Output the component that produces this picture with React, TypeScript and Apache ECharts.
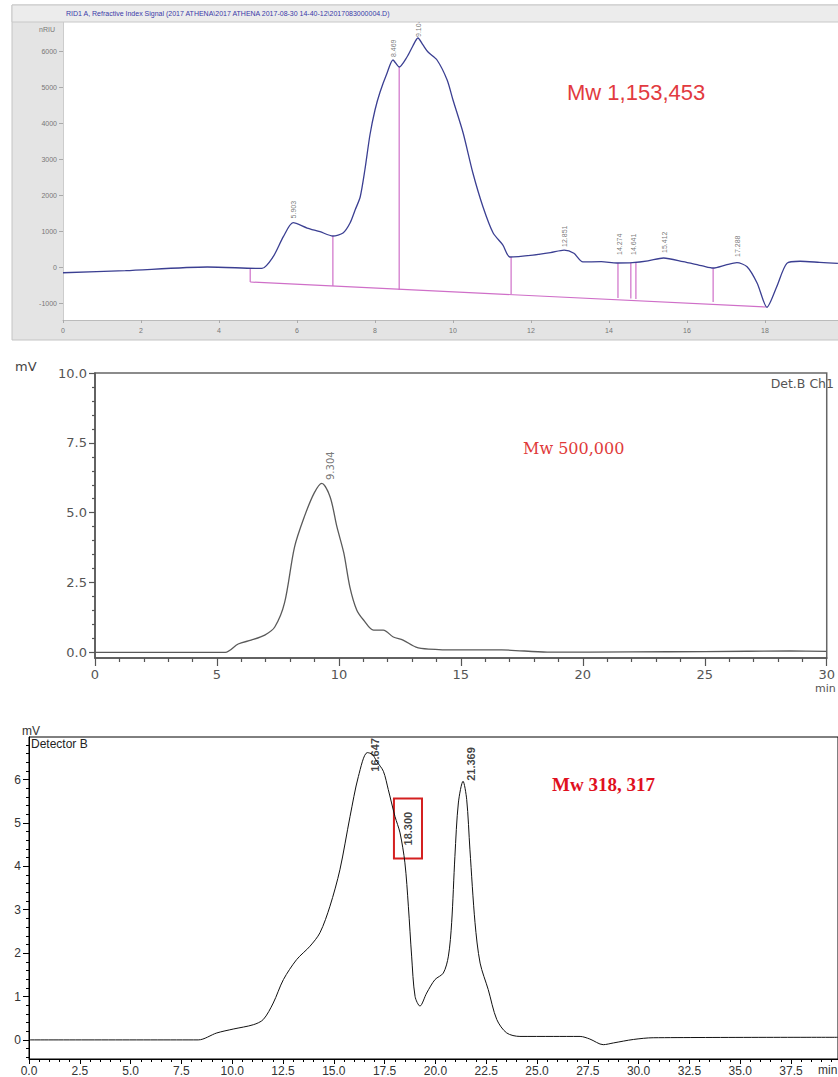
import React, { useEffect, useRef } from 'react';
import * as echarts from 'echarts';

// ---------- Panel 1 (RID signal) ----------
const topTitle = 'RID1 A, Refractive Index Signal (2017 ATHENA\\2017 ATHENA 2017-08-30 14-40-12\\2017083000004.D)';
const topTimes = [0, 1.6, 3.7, 5.1, 5.39, 5.65, 5.9, 6.26, 6.59, 6.92, 7.18, 7.36, 7.49, 7.62, 7.74, 7.87, 8.0, 8.13, 8.31, 8.46, 8.62, 8.82, 8.97, 9.1, 9.23, 9.36, 9.59, 9.85, 10.0, 10.26, 10.51, 10.77, 11.03, 11.28, 11.46, 12.05, 12.5, 12.85, 13.1, 13.33, 13.8, 14.2, 14.6, 15.0, 15.4, 15.9, 16.4, 16.67, 17.0, 17.28, 17.54, 17.8, 18.05, 18.3, 18.56, 18.9, 19.4, 19.87];
const topSignal = [-160, -100, 0, -40, 286, 842, 1231, 1083, 981, 861, 944, 1222, 1583, 1944, 2694, 3667, 4361, 4861, 5389, 5750, 5556, 5833, 6139, 6361, 6167, 5972, 5750, 5194, 4639, 3722, 2611, 1667, 944, 611, 278, 330, 400, 470, 380, 140, 147, 111, 120, 170, 250, 147, 30, -28, 60, 120, 8, -450, -1120, -550, 100, 160, 130, 100];
const topDropX = [4.8, 6.92, 8.62, 11.49, 14.23, 14.56, 14.69, 16.67, 18.03];
const topDropTop = [-30, 861, 5556, 278, 111, 115, 118, -28, -1111];
const topDropBottom = [-417, -528, -639, -750, -861, -875, -889, -972, -1111];
const topBaseX = [4.8, 18.03];
const topBaseY = [-417, -1111];
const topPeakText = ['5.903', '8.469', '9.104', '12.851', '14.274', '14.641', '15.412', '17.288'];
const topPeakX = [5.903, 8.469, 9.104, 12.851, 14.274, 14.641, 15.412, 17.288];
const topPeakLabelY = [1350, 5833, 6389, 556, 333, 333, 389, 278];
const topYTicks = [-1000, 0, 1000, 2000, 3000, 4000, 5000, 6000];
const topXTicks = [0, 2, 4, 6, 8, 10, 12, 14, 16, 18];

// ---------- Panel 2 (Det.B Ch1) ----------
const midTimes = [0, 2, 4, 5.34, 5.87, 6.4, 6.96, 7.37, 7.77, 8.18, 8.58, 8.99, 9.3, 9.64, 9.92, 10.2, 10.45, 10.73, 11.01, 11.42, 11.82, 12.23, 12.63, 13.16, 13.68, 14.9, 16.68, 18.54, 22, 25, 28.5, 30];
const midSignal = [0, 0, 0, 0, 0.3, 0.44, 0.62, 0.91, 1.77, 3.77, 4.85, 5.71, 6.05, 5.56, 4.49, 3.56, 2.34, 1.52, 1.16, 0.8, 0.8, 0.55, 0.44, 0.19, 0.12, 0.09, 0.09, 0.01, 0.02, 0.03, 0.05, 0.04];
const midPeakText = ['9.304'];
const midPeakX = [9.64];
const midPeakLabelY = [6.17];
const midYTicks = [0, 2.5, 5, 7.5, 10];
const midYMinor = [0.5, 1, 1.5, 2, 3, 3.5, 4, 4.5, 5.5, 6, 6.5, 7, 8, 8.5, 9, 9.5];

// ---------- Panel 3 (Detector B) ----------
const botTimes = [0, 8.33, 9.24, 10.05, 11.04, 11.53, 12.02, 12.52, 13.17, 13.83, 14.32, 14.81, 15.3, 15.8, 16.21, 16.65, 16.9, 17.11, 17.44, 17.68, 18.01, 18.26, 18.5, 18.67, 18.83, 19.0, 19.24, 19.57, 19.98, 20.39, 20.64, 20.8, 20.96, 21.13, 21.36, 21.54, 21.7, 21.95, 22.2, 22.6, 23.02, 23.51, 24.16, 25.8, 27.12, 27.6, 28.26, 28.76, 29.74, 30.72, 39.8];
const botSignal = [0, 0, 0.16, 0.25, 0.35, 0.47, 0.85, 1.39, 1.85, 2.16, 2.47, 3.08, 3.92, 5.15, 6.07, 6.62, 6.58, 6.42, 6.19, 5.77, 5.15, 4.77, 4.08, 3.08, 1.93, 1.0, 0.78, 1.08, 1.39, 1.54, 1.93, 2.7, 4.23, 5.46, 5.96, 5.54, 4.38, 2.7, 1.77, 1.16, 0.47, 0.16, 0.08, 0.08, 0.08, 0.02, -0.11, -0.07, 0.01, 0.05, 0.06];
const botPeakText = ['16.647', '18.300', '21.369'];
const botPeakX = [17.03, 18.65, 21.75];
const botPeakLabelY = [6.18, 4.48, 5.97];
const botBoxX = [17.96, 19.34];
const botBoxY = [5.56, 4.18];
const botXTicks = [0, 2.5, 5, 7.5, 10, 12.5, 15, 17.5, 20, 22.5, 25, 27.5, 30, 32.5, 35, 37.5];
const botXMinor = [0.5, 1, 1.5, 2, 3, 3.5, 4, 4.5, 5.5, 6, 6.5, 7, 8, 8.5, 9, 9.5, 10.5, 11, 11.5, 12, 13, 13.5, 14, 14.5, 15.5, 16, 16.5, 17, 18, 18.5, 19, 19.5, 20.5, 21, 21.5, 22, 23, 23.5, 24, 24.5, 25.5, 26, 26.5, 27, 28, 28.5, 29, 29.5, 30.5, 31, 31.5, 32, 33, 33.5, 34, 34.5, 35.5, 36, 36.5, 37, 38, 38.5, 39, 39.5];
const botYTicks = [0, 1, 2, 3, 4, 5, 6];
const botYMinor = [-0.4, -0.2, 0.2, 0.4, 0.6, 0.8, 1.2, 1.4, 1.6, 1.8, 2.2, 2.4, 2.6, 2.8, 3.2, 3.4, 3.6, 3.8, 4.2, 4.4, 4.6, 4.8, 5.2, 5.4, 5.6, 5.8, 6.2, 6.4, 6.6, 6.8];

const zip = (a: number[], b: number[]) => a.map((v, i) => [v, b[i]]);

function labelSeries(xi: number, yi: number, xs: number[], ys: number[], texts: string[], font: any) {
  return {
    type: 'scatter', xAxisIndex: xi, yAxisIndex: yi, silent: true, symbolSize: 1,
    itemStyle: { color: 'rgba(0,0,0,0)' }, z: 5,
    data: texts.map((t, i) => ({ name: t, value: [xs[i], ys[i]] })),
    label: { show: true, position: 'inside', rotate: 90, align: 'left', verticalAlign: 'middle', formatter: '{b}', ...font },
  };
}

export default function App() {
  const ref = useRef<HTMLDivElement>(null);
  useEffect(() => {
    if (!ref.current) return;
    const chart = echarts.init(ref.current, null, { renderer: 'svg' });
    const pink = '#cf6fc8';
    const topAxisLbl = { fontSize: 7, color: '#777', fontFamily: 'Liberation Sans' };
    const series: any[] = [
      { type: 'line', xAxisIndex: 0, yAxisIndex: 0, data: zip(topTimes, topSignal), showSymbol: false, smooth: 0.25, lineStyle: { color: '#3b3f92', width: 1.3 }, z: 3 },
      { type: 'line', xAxisIndex: 0, yAxisIndex: 0, data: zip(topBaseX, topBaseY), showSymbol: false, lineStyle: { color: pink, width: 1.2 }, z: 2 },
      ...topDropX.map((x, i) => ({ type: 'line', xAxisIndex: 0, yAxisIndex: 0, data: [[x, topDropTop[i]], [x, topDropBottom[i]]], showSymbol: false, lineStyle: { color: pink, width: 1.2 }, z: 2 })),
      labelSeries(0, 0, topPeakX, topPeakLabelY, topPeakText, { fontSize: 7, color: '#555', fontFamily: 'Liberation Sans' }),
      { type: 'line', xAxisIndex: 1, yAxisIndex: 1, data: zip(midTimes, midSignal), showSymbol: false, smooth: 0.3, lineStyle: { color: '#5a5a5a', width: 1.3 } },
      labelSeries(1, 1, midPeakX, midPeakLabelY, midPeakText, { fontSize: 10, color: '#555', fontFamily: 'DejaVu Sans' }),
      {
        type: 'line', xAxisIndex: 2, yAxisIndex: 3, data: zip(botTimes, botSignal), showSymbol: false, smooth: 0.3, lineStyle: { color: '#111', width: 1 },
        markArea: { silent: true, itemStyle: { color: 'rgba(0,0,0,0)', borderColor: '#d42020', borderWidth: 2 }, data: [[{ coord: [botBoxX[0], botBoxY[0]] }, { coord: [botBoxX[1], botBoxY[1]] }]] },
      },
      labelSeries(2, 3, botPeakX, botPeakLabelY, botPeakText, { fontSize: 11, fontWeight: 'bold', color: '#111', fontFamily: 'Liberation Sans' }),
    ];
    const option: any = {
      animation: false,
      grid: [
        { left: 63, top: 22, width: 775, height: 298 },
        { left: 95, top: 373, width: 741, height: 285, show: true, borderColor: '#666', borderWidth: 1.5 },
        { left: 29, top: 737, width: 809, height: 322, show: true, borderColor: '#000', borderWidth: 1 },
      ],
      xAxis: [
        { gridIndex: 0, type: 'value', position: 'bottom', min: 0, max: 775 / 39, splitLine: { show: false },
          axisLine: { show: true, onZero: false, lineStyle: { color: '#bbb' } },
          axisTick: { show: true, length: 3, customValues: topXTicks, lineStyle: { color: '#aaa' } },
          axisLabel: { customValues: topXTicks, margin: 7, ...topAxisLbl } },
        { gridIndex: 1, type: 'value', position: 'bottom', min: 0, max: 30, interval: 5, splitLine: { show: false },
          axisLine: { show: true, onZero: false, lineStyle: { color: '#555', width: 1.5 } },
          axisTick: { show: true, length: 8, lineStyle: { color: '#555', width: 1.2 } },
          minorTick: { show: true, splitNumber: 5, length: 4, lineStyle: { color: '#555', width: 1.2 } },
          axisLabel: { margin: 10, fontSize: 13, color: '#555', fontFamily: 'DejaVu Sans' } },
        { gridIndex: 2, type: 'value', position: 'bottom', min: 0, max: 809 / 20.32, splitLine: { show: false },
          axisLine: { show: true, onZero: false, lineStyle: { color: '#000' } },
          axisTick: { show: true, length: 5, customValues: botXTicks, lineStyle: { color: '#000' } },
          axisLabel: { customValues: botXTicks, margin: 6, fontSize: 12, color: '#333', fontFamily: 'Liberation Sans', formatter: (v: number) => v.toFixed(1) } },
        { gridIndex: 2, type: 'value', position: 'bottom', min: 0, max: 809 / 20.32, splitLine: { show: false },
          axisLine: { show: false, onZero: false }, axisLabel: { show: false },
          axisTick: { show: true, length: 3, customValues: botXMinor, lineStyle: { color: '#000' } } },
      ],
      yAxis: [
        { gridIndex: 0, type: 'value', position: 'left', min: (267 - 320) / 36 * 1000, max: (267 - 22) / 36 * 1000, splitLine: { show: false },
          axisLine: { show: true, onZero: false, lineStyle: { color: '#ccc' } },
          axisTick: { show: true, length: 4, customValues: topYTicks, lineStyle: { color: '#aaa' } },
          axisLabel: { customValues: topYTicks, margin: 6, formatter: (v: number) => String(Math.round(v)), ...topAxisLbl } },
        { gridIndex: 1, type: 'value', position: 'left', min: -0.2, max: 10, splitLine: { show: false },
          axisLine: { show: true, onZero: false, lineStyle: { color: '#555', width: 1.5 } },
          axisTick: { show: true, length: 6, customValues: midYTicks, lineStyle: { color: '#555', width: 1.2 } },
          axisLabel: { customValues: midYTicks, margin: 8, fontSize: 13, color: '#555', fontFamily: 'DejaVu Sans', formatter: (v: number) => v.toFixed(1) } },
        { gridIndex: 1, type: 'value', position: 'left', min: -0.2, max: 10, splitLine: { show: false },
          axisLine: { show: false, onZero: false }, axisLabel: { show: false },
          axisTick: { show: true, length: 3, customValues: midYMinor, lineStyle: { color: '#555', width: 1.2 } } },
        { gridIndex: 2, type: 'value', position: 'left', min: -0.44, max: 6.98, splitLine: { show: false },
          axisLine: { show: true, onZero: false, lineStyle: { color: '#000' } },
          axisTick: { show: true, length: 6, customValues: botYTicks, lineStyle: { color: '#000' } },
          axisLabel: { customValues: botYTicks, margin: 8, fontSize: 12, color: '#333', fontFamily: 'Liberation Sans' } },
        { gridIndex: 2, type: 'value', position: 'left', min: -0.44, max: 6.98, splitLine: { show: false },
          axisLine: { show: false, onZero: false }, axisLabel: { show: false },
          axisTick: { show: true, length: 3, customValues: botYMinor, lineStyle: { color: '#000' } } },
      ],
      series,
      graphic: [
        { type: 'rect', z: -10, shape: { x: 12, y: 5, width: 830, height: 335 }, style: { fill: '#e4e4e4', stroke: '#c4c4c4', lineWidth: 1 } },
        { type: 'rect', z: -9, shape: { x: 63, y: 22, width: 780, height: 298 }, style: { fill: '#ffffff' } },
        { type: 'rect', z: 100, shape: { x: 12, y: 5, width: 830, height: 17 }, style: { fill: '#ececec', stroke: '#c8c8c8', lineWidth: 1 } },
        { type: 'text', z: 101, x: 66, y: 13.5, style: { text: topTitle, fontSize: 7, fill: '#3a3aa8', fontFamily: 'Liberation Sans', verticalAlign: 'middle' } },
        { type: 'text', z: 101, x: 55, y: 29, style: { text: 'nRIU', fontSize: 7, fill: '#777', fontFamily: 'Liberation Sans', align: 'right', verticalAlign: 'middle' } },
        { type: 'text', z: 101, x: 567, y: 92, style: { text: 'Mw 1,153,453', fontSize: 22, fill: '#e23a40', fontFamily: 'Liberation Sans', verticalAlign: 'middle' } },
        { type: 'text', z: 101, x: 15, y: 366, style: { text: 'mV', fontSize: 13, fill: '#444', fontFamily: 'DejaVu Sans', verticalAlign: 'middle' } },
        { type: 'text', z: 101, x: 834, y: 383, style: { text: 'Det.B Ch1', fontSize: 12.5, fill: '#555', fontFamily: 'DejaVu Sans', align: 'right', verticalAlign: 'middle' } },
        { type: 'text', z: 101, x: 523, y: 448, style: { text: 'Mw 500,000', fontSize: 16, fill: '#e03a3a', fontFamily: 'DejaVu Serif', verticalAlign: 'middle' } },
        { type: 'text', z: 101, x: 815, y: 688, style: { text: 'min', fontSize: 11, fill: '#555', fontFamily: 'DejaVu Sans', verticalAlign: 'middle' } },
        { type: 'text', z: 101, x: 22, y: 731, style: { text: 'mV', fontSize: 12, fill: '#333', fontFamily: 'Liberation Sans', verticalAlign: 'middle' } },
        { type: 'text', z: 101, x: 31, y: 744, style: { text: 'Detector B', fontSize: 12, fill: '#222', fontFamily: 'Liberation Sans', verticalAlign: 'middle' } },
        { type: 'text', z: 101, x: 552, y: 784, style: { text: 'Mw 318, 317', fontSize: 19, fontWeight: 'bold', fill: '#e0101e', fontFamily: 'Liberation Serif', verticalAlign: 'middle' } },
        { type: 'text', z: 101, x: 818, y: 1070, style: { text: 'min', fontSize: 12, fill: '#333', fontFamily: 'Liberation Sans', verticalAlign: 'middle' } },
      ],
    };
    chart.setOption(option);
    return () => chart.dispose();
  }, []);
  return <div ref={ref} style={{ position: 'absolute', left: 0, top: 0, width: 838, height: 1077, background: '#fff' }} />;
}
